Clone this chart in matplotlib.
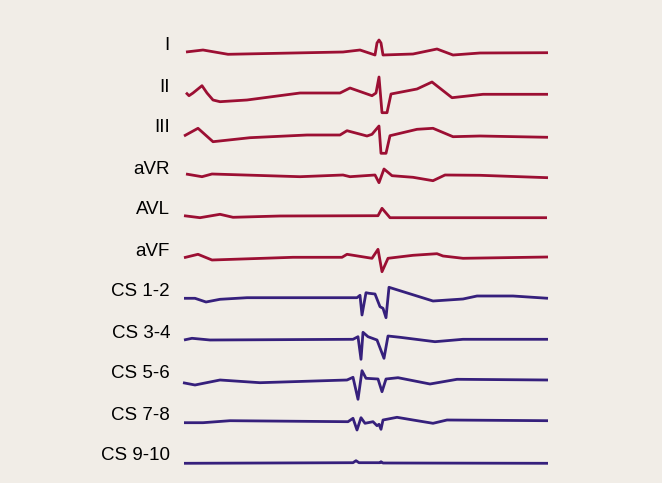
import numpy as np
import matplotlib.pyplot as plt

labels = ['I', 'II', 'III', 'aVR', 'AVL', 'aVF',
          'CS 1-2', 'CS 3-4', 'CS 5-6', 'CS 7-8', 'CS 9-10']

# time positions and deflections (upwards positive)
t_I = [186, 203, 228, 343, 360, 375, 377, 379, 381, 383, 413, 437, 453, 480, 548]
v_I = [1, 3, -1.3, 1, 3, -2, 10, 13, 10, -2, -1, 4, -2, 0, 0.3]

t_II = [186, 189, 193, 202, 207, 213, 220, 247, 300, 340, 350, 372, 376, 379, 382,
        387, 391, 417, 432, 452, 483, 548]
v_II = [1.3, -1.7, 1, 8.3, 1, -6, -7.7, -6, 1, 1, 6, -1.7, 1, 17, -18.7,
        -18.7, 0, 5, 12, -3.7, -0.3, -0.3]

t_III = [184, 198, 213, 250, 307, 340, 347, 367, 372, 379, 381, 386, 390, 417, 433,
         453, 480, 548]
v_III = [-1, 6.7, -6.7, -2.7, 0, 0, 4.3, -1, 0.7, 9, -18.3, -18.3, -0.7, 5.7, 6.7,
         -1.7, -1, -2.3]

t_aVR = [186, 202, 212, 300, 343, 350, 375, 379, 384, 392, 413, 433, 445, 480, 548]
v_aVR = [2, -0.7, 2, -0.7, 1, -0.7, 1, -6.7, 7, 0.3, -1.3, -4.7, 1, 0.7, -1.7]

t_AVL = [184, 200, 220, 233, 280, 378, 382, 390, 547]
v_AVL = [1.3, -0.7, 2.7, -0.3, 1, 1.3, 8.7, -0.7, -0.7]

t_aVF = [184, 198, 212, 293, 342, 347, 372, 378, 382, 388, 413, 437, 443, 463, 548]
v_aVF = [0.3, 3.7, -2, 0.7, 0.7, 3.7, -0.3, 8.7, -13.7, -0.3, 2.7, 4.3, 2, -0.3, 1]

t_cs12 = [184, 195, 206, 220, 247, 357, 360, 362, 366, 369, 375, 380, 383, 386, 389,
          433, 463, 477, 513, 548]
v_cs12 = [0.7, 0.7, -3, -0.3, 1.3, 1.3, 3.7, -16, 6.3, 5.7, 5, -7.7, -9.3, -18.7, 11.7,
          -2, 0, 3, 3, 0.7]

t_cs34 = [184, 192, 210, 353, 358, 361, 363, 368, 377, 384, 388, 400, 435, 463, 548]
v_cs34 = [0, 1.7, 0, 0.7, 3.3, -19.3, 7.7, 3.3, 0, -18.3, 4, 2.7, -1.7, 0.7, 0.7]

t_cs56 = [183, 195, 220, 260, 347, 353, 358, 362, 366, 378, 382, 386, 398, 430, 457, 548]
v_cs56 = [-1.7, -4, 1, -1.7, 1, 3.7, -18.3, 10.3, 2.7, 2, -10.7, 2, 3.3, -3, 1.7, 1]

t_cs78 = [184, 203, 230, 348, 353, 357, 361, 365, 373, 377, 379, 381, 383, 397, 413,
          433, 447, 548]
v_cs78 = [-0.7, -0.7, 1.3, 0.3, 3.7, -8, 4.3, -1.3, 0.3, -3.7, -2.3, -7.3, 2, 4.7, 2,
          -1.3, 2, 1.3]

t_cs910 = [184, 353, 356, 359, 380, 381, 383, 548]
v_cs910 = [-0.3, 0.3, 2.3, 0.3, 0.3, 1.3, 0, -0.3]

times = [t_I, t_II, t_III, t_aVR, t_AVL, t_aVF, t_cs12, t_cs34, t_cs56, t_cs78, t_cs910]
vals = [v_I, v_II, v_III, v_aVR, v_AVL, v_aVF, v_cs12, v_cs34, v_cs56, v_cs78, v_cs910]

red = '#9c0f33'
blue = '#36207c'
bg = '#f1ede7'

fig = plt.figure(figsize=(6.62, 4.83), dpi=100, facecolor=bg)
ax = fig.add_axes([0, 0, 1, 1])
ax.set_facecolor(bg)
ax.set_xlim(0, 662)
ax.set_ylim(483, 0)
ax.axis('off')

base = 53 + 41 * np.arange(len(labels))
for i, lab in enumerate(labels):
    col = red if i < 6 else blue
    y = base[i] - np.array(vals[i])
    ax.plot(times[i], y, color=col, lw=2.0, solid_joinstyle='round',
            solid_capstyle='butt')
    ax.text(170, base[i] - 7, lab, ha='right', va='center', fontsize=13.5,
            family=['Liberation Sans', 'DejaVu Sans'], color='black')

fig.savefig('out.png', dpi=100, facecolor=bg)
